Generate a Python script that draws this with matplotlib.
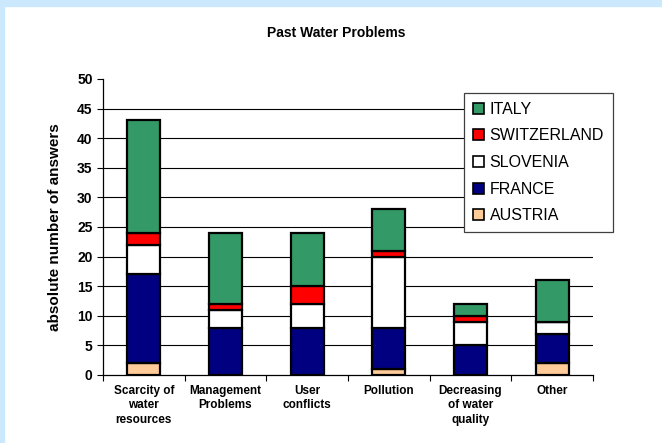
import matplotlib
matplotlib.use("Agg")
import matplotlib.pyplot as plt
from matplotlib.patches import Rectangle
import numpy as np

plt.rcParams['font.family'] = ['Liberation Sans', 'DejaVu Sans']

categories = ["Scarcity of\nwater\nresources", "Management\nProblems", "User\nconflicts",
              "Pollution", "Decreasing\nof water\nquality", "Other"]
series_names = ["AUSTRIA", "FRANCE", "SLOVENIA", "SWITZERLAND", "ITALY"]
austria = [2, 0, 0, 1, 0, 2]
france = [15, 8, 8, 7, 5, 5]
slovenia = [5, 3, 4, 12, 4, 2]
switzerland = [2, 1, 3, 1, 1, 0]
italy = [19, 12, 9, 7, 2, 7]
colors = ["#ffcc99", "#000080", "#ffffff", "#ff0000", "#339966"]

W, H = 662, 443
fig = plt.figure(figsize=(W/100, H/100), dpi=100)
fig.patch.set_facecolor("white")
fig.add_artist(Rectangle((0, 1 - 6/H), 1, 6/H, transform=fig.transFigure, color="#cce8fc", zorder=0))
fig.add_artist(Rectangle((0, 0), 4/W, 1, transform=fig.transFigure, color="#cce8fc", zorder=0))

ax = fig.add_axes([103/W, 1 - 375/H, 490/W, 296/H])
ax.set_facecolor("white")
x = np.arange(len(categories))
bottom = np.zeros(len(categories))
handles = []
for name, vals, c in zip(series_names, [austria, france, slovenia, switzerland, italy], colors):
    b = ax.bar(x, vals, width=0.40, bottom=bottom, color=c, edgecolor="black", linewidth=1.6,
               label=name, zorder=3)
    handles.append(b)
    bottom += np.array(vals)

ax.set_xlim(-0.5, 5.5)
ax.set_ylim(0, 50)
for yv in range(5, 50, 5):
    ax.axhline(yv, color="black", linewidth=0.8, zorder=1)

ax.set_yticks(range(0, 51, 5))
ax.tick_params(axis="y", direction="out", length=4.5, width=0.8, labelsize=10, pad=3)
for t in ax.get_yticklabels():
    t.set_fontweight("bold")

ax.set_xticks(x)
ax.set_xticklabels(categories, fontsize=8.5, fontweight="bold", linespacing=1.3)
ax.tick_params(axis="x", length=0, pad=7)
ax.set_xticks(np.arange(-0.5, 6.0, 1.0), minor=True)
ax.tick_params(axis="x", which="minor", direction="out", length=4, width=0.8)

for s in ["top", "right"]:
    ax.spines[s].set_visible(False)
for s in ["left", "bottom"]:
    ax.spines[s].set_linewidth(0.9)
    ax.spines[s].set_zorder(4)

ax.set_ylabel("absolute number of answers", fontsize=11, fontweight="bold")
ax.yaxis.set_label_coords(-(103 - 62) / 490, 0.5)

fig.text(336/W, 1 - 33/H, "Past Water Problems", ha="center", va="center",
         fontsize=10, fontweight="bold")

leg = ax.legend(handles[::-1], series_names[::-1], loc="upper left",
                bbox_to_anchor=(464/W, 1 - 93/H), bbox_transform=fig.transFigure,
                fontsize=11.5, frameon=True, fancybox=False, framealpha=1,
                edgecolor="#404040", handlelength=0.7, handleheight=0.7,
                handletextpad=0.35, labelspacing=0.73, borderpad=0.55, borderaxespad=0)
leg.get_frame().set_linewidth(0.9)
for p in leg.get_patches():
    p.set_linewidth(1.2)
leg.set_zorder(5)

fig.savefig("out.png", dpi=100, facecolor=fig.get_facecolor())
